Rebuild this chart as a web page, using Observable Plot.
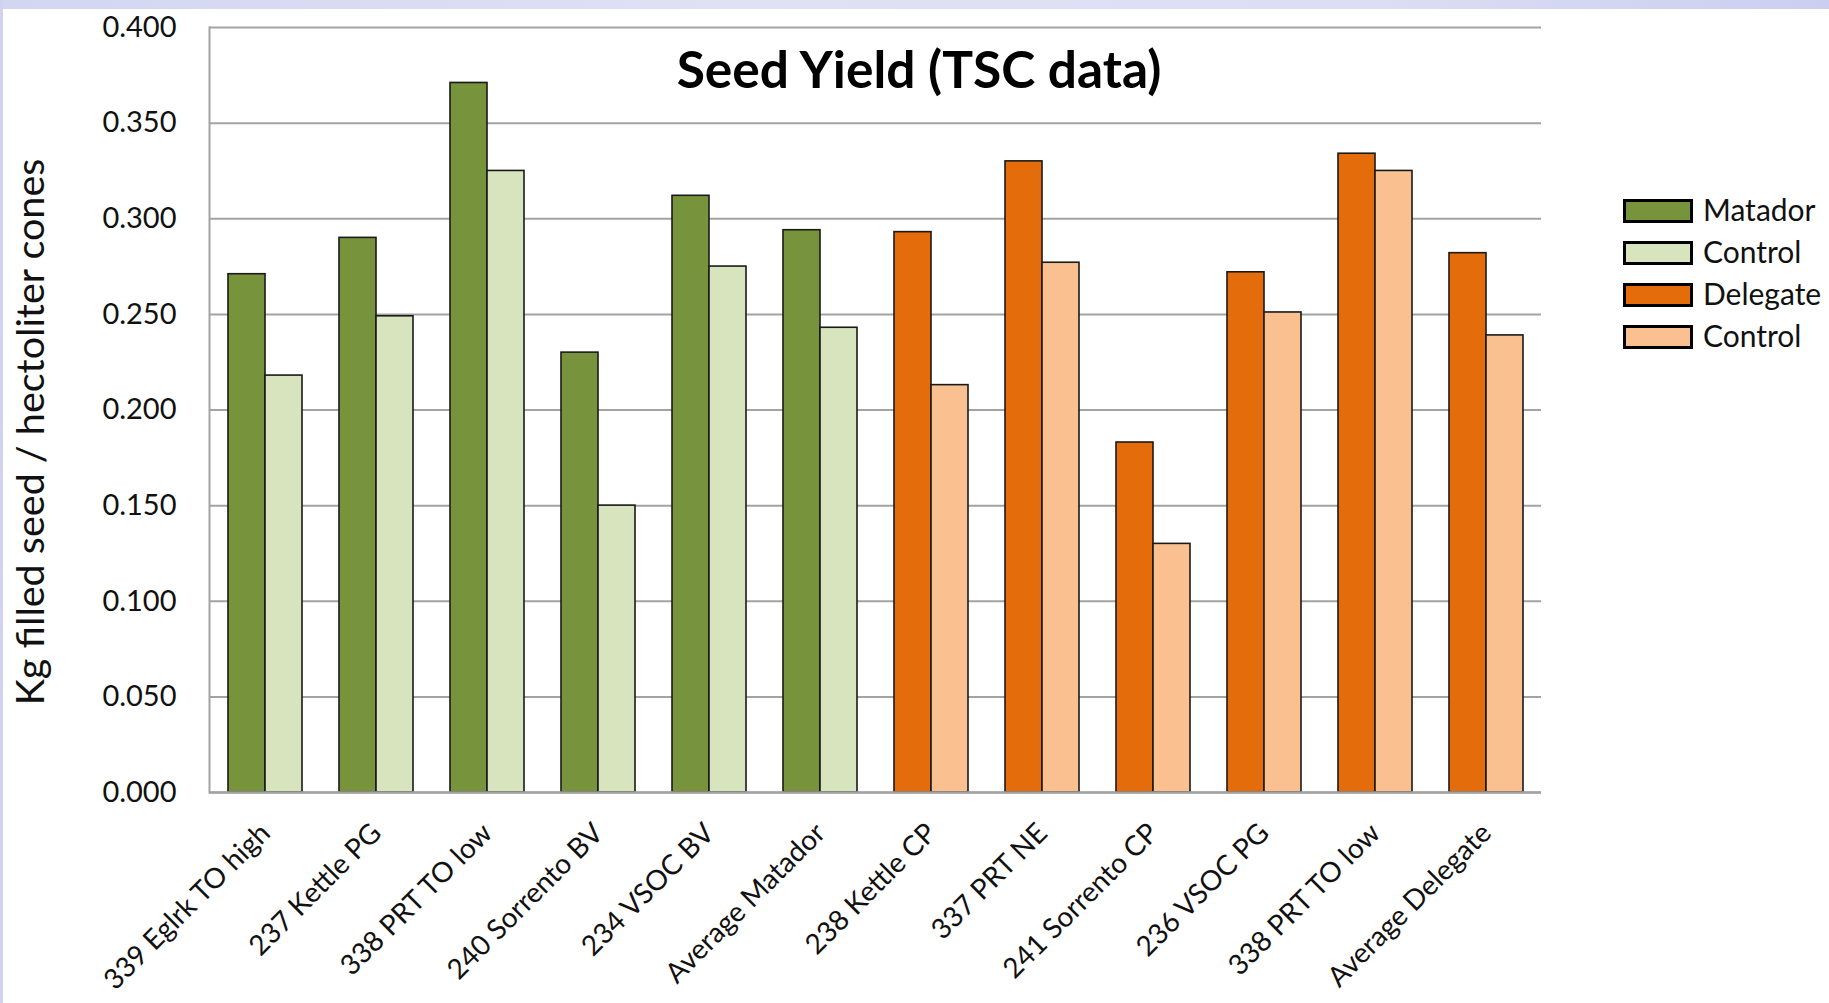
<!DOCTYPE html>
<html><head><meta charset="utf-8">
<script src="https://cdn.jsdelivr.net/npm/d3@7"></script>
<script src="https://cdn.jsdelivr.net/npm/@observablehq/plot@0.6"></script>
<style>
html,body{margin:0;padding:0;background:#fff;width:1829px;height:1003px;overflow:hidden;}
#wrap{position:relative;width:1829px;height:1003px;}
#chart{position:absolute;left:0;top:0;}
#overlay{position:absolute;left:0;top:0;pointer-events:none;font-family:Lato, sans-serif;}
.strip-top{position:absolute;left:0;top:0;width:1829px;height:9px;background:linear-gradient(90deg,#d3d6f1,#dfe1f4 40%,#dcdef3 75%,#cbcef0);}
.strip-left{position:absolute;left:0;top:0;width:3px;height:1003px;background:#d0d3f0;}
</style></head>
<body><div id="wrap"><div id="chart"></div><svg id="overlay" width="1829" height="1003"></svg><div class="strip-top"></div><div class="strip-left"></div></div>
<script>
const categories = ["339 Eglrk TO high","237 Kettle PG","338 PRT TO low","240 Sorrento BV","234 VSOC BV","Average Matador","238 Kettle CP","337 PRT NE","241 Sorrento CP","236 VSOC PG","338 PRT TO low","Average Delegate"];
const products = ["Matador","Matador","Matador","Matador","Matador","Matador","Delegate","Delegate","Delegate","Delegate","Delegate","Delegate"];
const treatedValues = [0.271, 0.290, 0.371, 0.230, 0.312, 0.294, 0.293, 0.330, 0.183, 0.272, 0.334, 0.282];
const controlValues = [0.218, 0.249, 0.325, 0.150, 0.275, 0.243, 0.213, 0.277, 0.130, 0.251, 0.325, 0.239];
const seriesKeys = ["Matador","Matador Control","Delegate","Delegate Control"];
const seriesLabels = ["Matador","Control","Delegate","Control"];
const seriesColors = ["#77933c","#d7e4bd","#e46c0a","#fac090"];
const yTicks = [0.000, 0.050, 0.100, 0.150, 0.200, 0.250, 0.300, 0.350, 0.400];
const titleText = "Seed Yield (TSC data)";
const yLabelText = "Kg filled seed / hectoliter cones";

const rows = categories.map((c, i) => ({i, name: c, product: products[i], treated: treatedValues[i], control: controlValues[i]}));

const W = 1829, H = 1003, ML = 209, MR = 288, MT = 27, MB = 211;
const gridColor = "#a3a3a3";

function build(half) {
  return Plot.plot({
    width: W, height: H, marginLeft: ML, marginRight: MR, marginTop: MT, marginBottom: MB,
    style: {fontFamily: "Lato, sans-serif", background: "transparent", color: "#111"},
    x: {domain: rows.map(d => d.i), paddingInner: 1/3, paddingOuter: 1/6, label: null},
    y: {domain: [0, 0.4], label: null},
    color: {domain: seriesKeys, range: seriesColors},
    marks: [
      Plot.gridY(yTicks, {stroke: gridColor, strokeOpacity: 1, strokeWidth: 2}),
      Plot.barY(rows, {x: "i", y: "treated", fill: d => d.product, insetRight: half, stroke: "#1a1a1a", strokeWidth: 1.6}),
      Plot.barY(rows, {x: "i", y: "control", fill: d => d.product + " Control", insetLeft: half, stroke: "#1a1a1a", strokeWidth: 1.6}),
      Plot.ruleY([0], {stroke: gridColor, strokeWidth: 2.5}),
      Plot.frame({anchor: "left", stroke: gridColor, strokeWidth: 2}),
      Plot.axisY(yTicks, {tickFormat: d3.format(".3f"), tickSize: 0, tickPadding: 33, fontSize: 29, label: null}),
      Plot.axisX({tickFormat: i => categories[i], tickRotate: -45, tickSize: 0, tickPadding: 36, fontSize: 28, dx: 0, label: null})
    ]
  });
}

const first = build(0);
const bw = first.scale("x").bandwidth;
const chart = build(bw / 2);
document.getElementById("chart").appendChild(chart);

// overlay: title, y label, legend
const ov = d3.select("#overlay");
ov.append("text").attr("x", 919).attr("y", 88).attr("text-anchor", "middle")
  .attr("font-size", 51.5).attr("font-weight", "bold").attr("fill", "#000").text(titleText);
ov.append("text").attr("transform", "translate(44,432) rotate(-90)").attr("text-anchor", "middle")
  .attr("font-size", 39.5).attr("fill", "#111").text(yLabelText);

const leg = ov.append("g").attr("transform", "translate(1623,199)");
seriesLabels.forEach((lab, k) => {
  const g = leg.append("g").attr("transform", `translate(0,${k * 42})`);
  g.append("rect").attr("x", 1.5).attr("y", 1.5).attr("width", 67).attr("height", 21)
    .attr("fill", seriesColors[k]).attr("stroke", "#000").attr("stroke-width", 3);
  g.append("text").attr("x", 80).attr("y", 22).attr("font-size", 30).attr("fill", "#111").text(lab);
});
</script>
</body></html>
